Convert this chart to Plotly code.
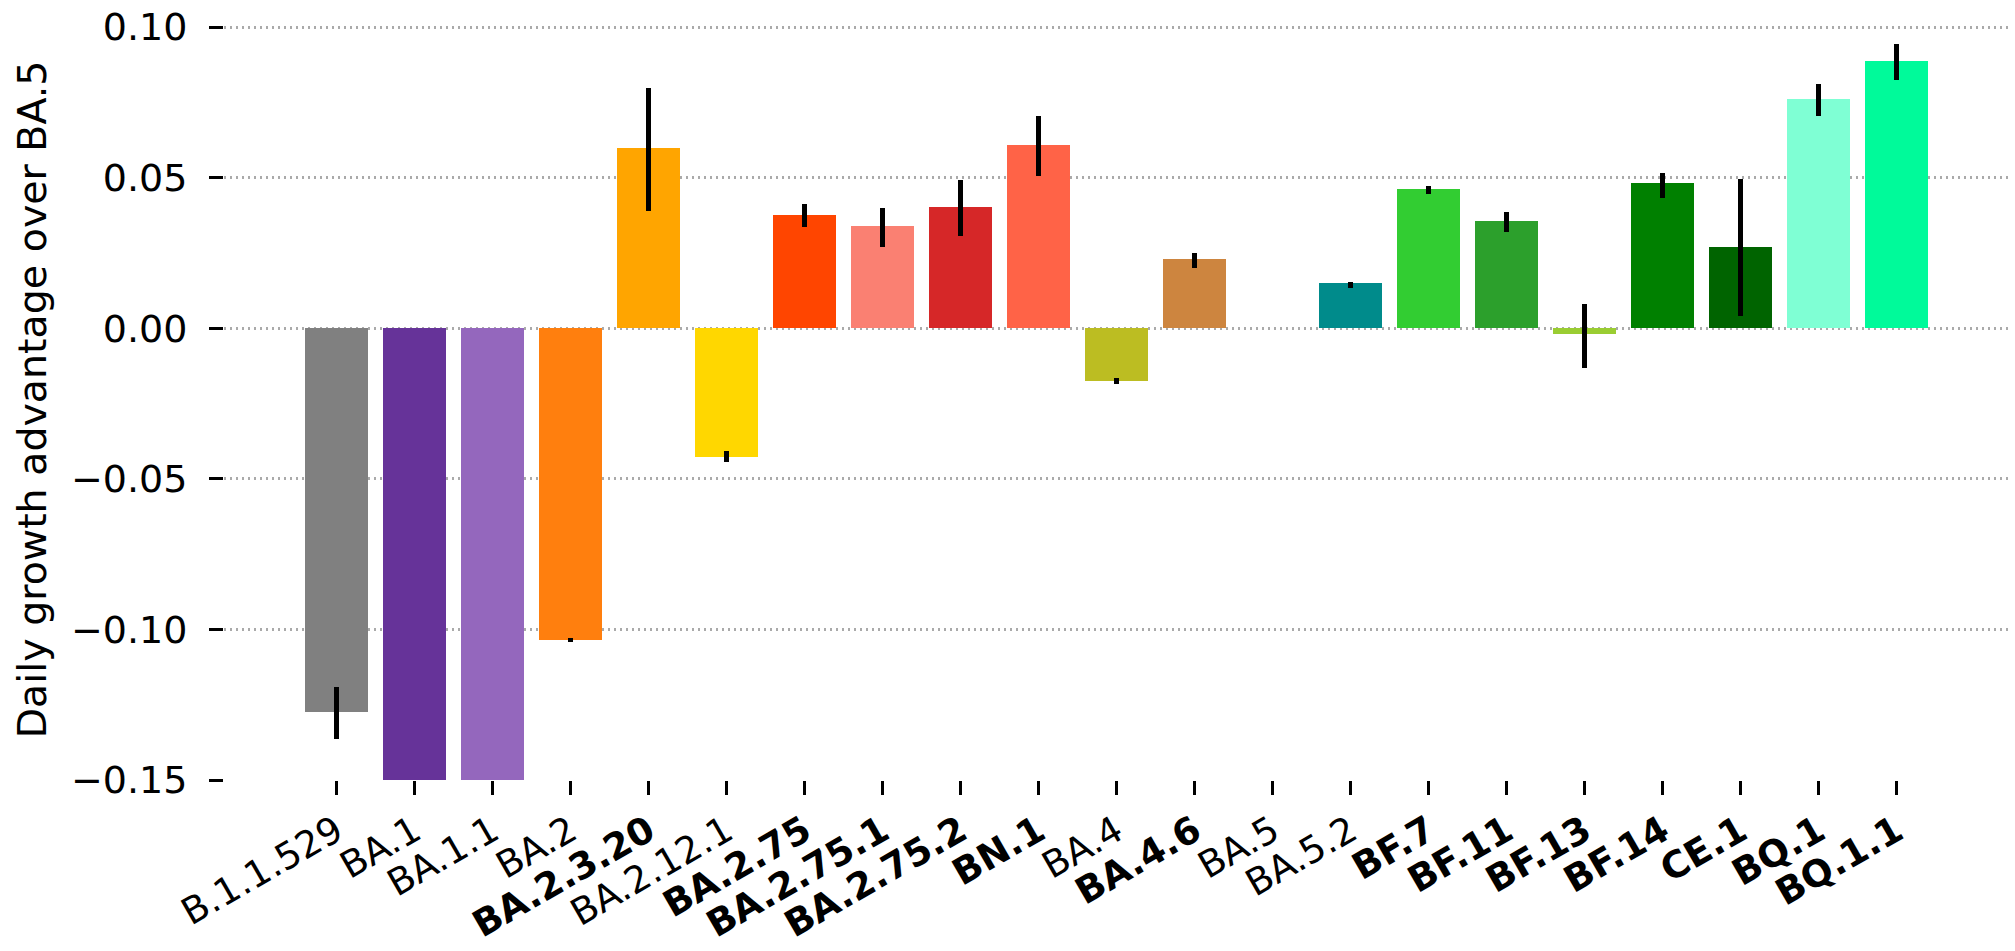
import plotly.graph_objects as go

categories = ["B.1.1.529", "BA.1", "BA.1.1", "BA.2", "BA.2.3.20", "BA.2.12.1",
              "BA.2.75", "BA.2.75.1", "BA.2.75.2", "BN.1", "BA.4", "BA.4.6",
              "BA.5", "BA.5.2", "BF.7", "BF.11", "BF.13", "BF.14", "CE.1",
              "BQ.1", "BQ.1.1"]
bold_label = [False, False, False, False, True, False,
              True, True, True, True, False, True,
              False, False, True, True, True, True, True,
              True, True]
values = [-0.1274, -0.15, -0.15, -0.1036, 0.0598, -0.0427,
          0.0376, 0.0341, 0.0402, 0.0608, -0.0175, 0.0230,
          0.0, 0.0149, 0.0462, 0.0356, -0.0020, 0.0482, 0.0269,
          0.0760, 0.0886]
err_plus = [0.0082, None, None, 0.0006, 0.0201, 0.0018,
            0.0038, 0.0057, 0.0090, 0.0096, 0.0010, 0.0019,
            None, 0.0006, 0.0011, 0.0031, 0.0101, 0.0035, 0.0228,
            0.0050, 0.0057]
err_minus = [0.0090, None, None, 0.0006, 0.0209, 0.0018,
             0.0039, 0.0070, 0.0096, 0.0102, 0.0010, 0.0029,
             None, 0.0014, 0.0017, 0.0038, 0.0111, 0.0048, 0.0228,
             0.0055, 0.0063]
colors = ["#808080", "#663399", "#9467bd", "#ff7f0e", "#ffa500", "#ffd700",
          "#ff4500", "#fa8072", "#d62728", "#ff6347", "#bcbd22", "#cd853f",
          "#ffffff", "#008b8b", "#32cd32", "#2ca02c", "#9acd32", "#008000", "#006400",
          "#7fffd4", "#00fa9a"]
y_ticks = [-0.15, -0.10, -0.05, 0.00, 0.05, 0.10]
y_title = "Daily growth advantage over BA.5"

tick_text = [f"<b>{c}</b>" if b else c for c, b in zip(categories, bold_label)]

fig = go.Figure()
fig.add_trace(go.Bar(
    x=categories,
    y=values,
    width=0.8,
    marker=dict(color=colors, line=dict(width=0)),
    error_y=dict(type="data", symmetric=False, array=err_plus, arrayminus=err_minus,
                 color="black", thickness=5.5, width=0),
    showlegend=False,
))

fig.update_layout(
    width=2015, height=951,
    margin=dict(l=224, r=6, t=0, b=171, autoexpand=False),
    paper_bgcolor="white", plot_bgcolor="white",
    font=dict(family="DejaVu Sans", color="black"),
    bargap=0,
)
fig.update_xaxes(
    type="category", automargin=False,
    range=[-1.44, 21.44],
    tickmode="array", tickvals=categories, ticktext=tick_text,
    tickangle=-30,
    tickfont=dict(size=37, family="DejaVu Sans", color="black"),
    ticks="outside", ticklen=14, tickwidth=3, tickcolor="black",
    showgrid=False, showline=False, zeroline=False,
)
fig.update_yaxes(
    automargin=False,
    range=[-0.15, 0.109],
    tickmode="array", tickvals=y_ticks, tickformat=".2f",
    tickfont=dict(size=38, family="DejaVu Sans", color="black"),
    ticks="outside", ticklen=14, tickwidth=3, tickcolor="black",
    ticklabelstandoff=14,
    showgrid=True, gridcolor="#aaaaaa", gridwidth=2.5, griddash="2px,4px",
    showline=False, zeroline=False, layer="above traces",
)
fig.add_annotation(
    text=y_title, textangle=-90,
    xref="paper", yref="paper", x=-0.1076, y=0.488,
    xanchor="center", yanchor="middle", showarrow=False,
    font=dict(family="DejaVu Sans", size=39.5, color="black"),
)

fig.write_html("out.html",
               config={"displayModeBar": False},
               post_script="document.body.style.margin='0';document.body.style.overflow='hidden';")
